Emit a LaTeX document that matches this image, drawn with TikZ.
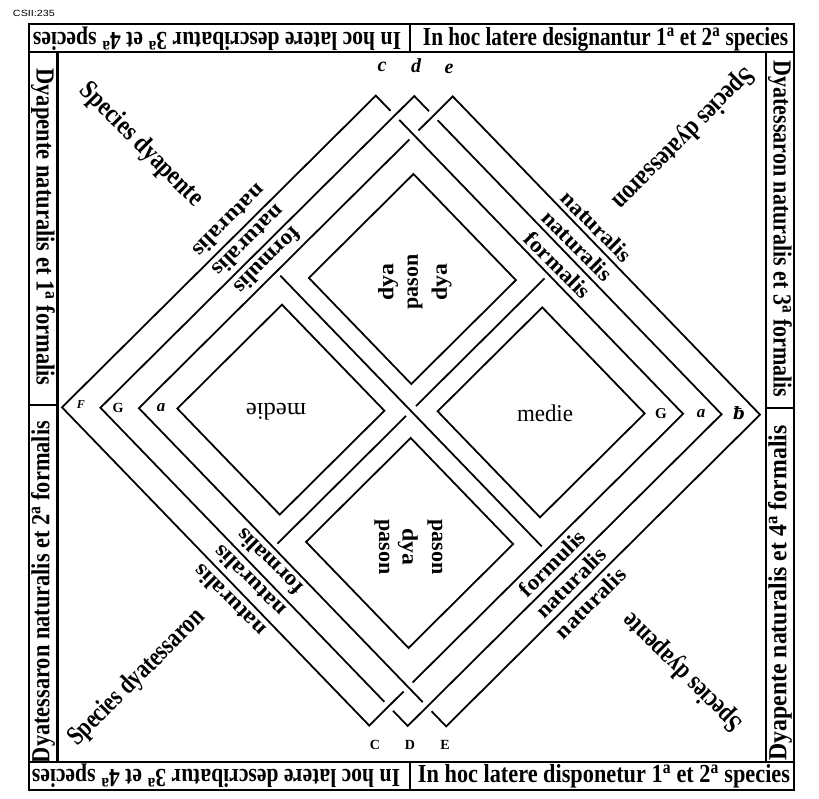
\documentclass[tikz,border=0pt]{standalone}
\usepackage{graphicx}
\usepackage{fontspec}
\setmainfont{Liberation Serif}
\newfontfamily\labsans{Liberation Sans}
\newfontfamily\dvs{DejaVu Serif}
\newcommand\sqz[2]{\resizebox{#1pt}{\height}{#2}}
\newcommand\oa{\textsuperscript{a}}
\begin{document}
\begin{tikzpicture}[x=1pt,y=-1pt,
  frame/.style={line width=2.2pt},
  ln/.style={line width=1.8pt},
  band/.style={inner sep=0pt,font=\fontsize{26}{26}\selectfont\bfseries},
  spec/.style={inner sep=0pt,font=\fontsize{27}{27}\selectfont\bfseries},
  lab/.style={inner sep=0pt,font=\fontsize{22}{22}\selectfont\bfseries},
  inner/.style={inner sep=0pt,font=\fontsize{22}{22}\selectfont\bfseries},
  med/.style={inner sep=0pt,font=\fontsize{24}{24}\selectfont},
  note/.style={inner sep=0pt,font=\fontsize{#1}{#1}\selectfont\bfseries},
  notei/.style={inner sep=0pt,font=\fontsize{#1}{#1}\selectfont\bfseries\itshape}
]
\path[use as bounding box] (0,0) rectangle (819,798);
\fill[white] (0,0) rectangle (819,798);

\node[inner sep=0pt,font=\labsans\fontsize{9}{9}\selectfont] (csi) at (34,13.5) {\sqz{42}{CSII:235}};

% frame
\draw[frame] (29,24) rectangle (794,790);
\draw[frame] (29,52) -- (794,52);
\draw[frame] (29,762) -- (794,762);
\draw[frame] (57.5,52) -- (57.5,762);
\draw[frame] (766,52) -- (766,762);
\draw[frame] (410,24) -- (410,52);
\draw[frame] (410,762) -- (410,790);
\draw[frame] (29,405) -- (57.5,405);
\draw[frame] (766,408) -- (794,408);

% band texts
\node[band,rotate=180] (tl) at (217,39) {\sqz{368}{In hoc latere describatur 3\oa{} et 4\oa{} species}};
\node[band] (tr) at (605.5,39) {\sqz{365}{In hoc latere designantur 1\oa{} et 2\oa{} species}};
\node[band,rotate=180] (bl) at (216,776) {\sqz{368}{In hoc latere describatur 3\oa{} et 4\oa{} species}};
\node[band] (br) at (604,776) {\sqz{372}{In hoc latere disponetur 1\oa{} et 2\oa{} species}};
\node[band,rotate=-90] (lu) at (43,227) {\sqz{317}{Dyapente naturalis et 1\oa{} formalis}};
\node[band,rotate=90] (ll) at (43,592) {\sqz{342}{Dyatessaron naturalis et 2\oa{} formalis}};
\node[band,rotate=-90] (ru) at (780,229) {\sqz{337}{Dyatessaron naturalis et 3\oa{} formalis}};
\node[band,rotate=90] (rl) at (780,593) {\sqz{335}{Dyapente naturalis et 4\oa{} formalis}};

% corner texts
\node[spec,rotate=-45] (s1) at (141,145) {\sqz{163}{Species dyapente}};
\node[spec,rotate=225] (s2) at (683,138) {\sqz{190}{Species dyatessaron}};
\node[spec,rotate=45] (s3) at (137,678) {\sqz{182}{Species dyatessaron}};
\node[spec,rotate=135] (s4) at (683,672) {\sqz{157}{Species dyapente}};

% interlaced diamonds, coordinates (p,q) along the two diagonals
\begin{scope}[shift={(411,411)},rotate=-0.6,x={(0.493pt,-0.5pt)},y={(0.493pt,0.5pt)}]
  % loop 1 (left-shifted)
  \draw[ln] (-306,276) -- (276,276) -- (276,-267);
  \draw[ln] (276,-285) -- (276,-354) -- (-354,-354) -- (-354,276) -- (-324,276);
  % loop 2 (centred)
  \draw[ln] (-267,315) -- (315,315) -- (315,-315) -- (285,-315);
  \draw[ln] (267,-315) -- (-315,-315) -- (-315,315) -- (-285,315);
  % loop 3 (right-shifted)
  \draw[ln] (-276,285) -- (-276,354) -- (354,354) -- (354,-276) -- (324,-276);
  \draw[ln] (306,-276) -- (-276,-276) -- (-276,267);
  % four inner squares
  \draw[ln] (-237,-237) -- (-237,-27) -- (-27,-27) -- (-27,-237) -- cycle;
  \draw[ln] (-237,27) -- (-237,237) -- (-27,237) -- (-27,27) -- cycle;
  \draw[ln] (27,27) -- (27,237) -- (237,237) -- (237,27) -- cycle;
  \draw[ln] (27,-237) -- (27,-27) -- (237,-27) -- (237,-237) -- cycle;
  % central cross
  \draw[ln] (-268,0) -- (268,0);
  \draw[ln] (0,-268) -- (0,-10);
  \draw[ln] (0,10) -- (0,268);
  % band labels
  \node[lab,rotate=225] (ul1) at (-374,2) {\sqz{93}{naturalis}};
  \node[lab,rotate=225] (ul2) at (-334,2) {\sqz{92}{naturalis}};
  \node[lab,rotate=225] (ul3) at (-295,2) {\sqz{85}{formulis}};
  \node[lab,rotate=-45] (ur1) at (0,373) {\sqz{90}{naturalis}};
  \node[lab,rotate=-45] (ur2) at (0,334) {\sqz{90}{naturalis}};
  \node[lab,rotate=-45] (ur3) at (0,295) {\sqz{84}{formalis}};
  \node[lab,rotate=45] (lr1) at (374,-6) {\sqz{90}{naturalis}};
  \node[lab,rotate=45] (lr2) at (334,-6) {\sqz{90}{naturalis}};
  \node[lab,rotate=45] (lr3) at (295,-6) {\sqz{84}{formulis}};
  \node[lab,rotate=135] (ll1) at (10,-374) {\sqz{92}{naturalis}};
  \node[lab,rotate=135] (ll2) at (10,-334) {\sqz{92}{naturalis}};
  \node[lab,rotate=135] (ll3) at (10,-295) {\sqz{84}{formalis}};
\end{scope}

% inner square texts
\node[med,rotate=180] (m1) at (276,412) {\sqz{60}{medie}};
\node[med] (m2) at (545,413) {\sqz{56}{medie}};
\node[inner,rotate=90] (t1) at (388,282) {\sqz{37}{dya}};
\node[inner,rotate=90] (t2) at (415,282) {\sqz{55}{pason}};
\node[inner,rotate=90] (t3) at (441.5,282) {\sqz{37}{dya}};
\node[inner,rotate=-90] (b1) at (382,547) {\sqz{55}{pason}};
\node[inner,rotate=-90] (b2) at (408,547) {\sqz{37}{dya}};
\node[inner,rotate=-90] (b3) at (435,547) {\sqz{55}{pason}};

% note names
\node[notei=20] (nc) at (382,67) {c};
\node[notei=20] (nd) at (416,66) {d};
\node[notei=20] (ne) at (449,69) {e};
\node[note=14] (nC) at (375,745) {C};
\node[note=14] (nD) at (410,745) {D};
\node[note=14] (nE) at (445,745) {E};
\node[notei=12] (nF) at (81,405) {F};
\node[note=14] (nG) at (118,408) {G};
\node[notei=17] (na) at (161,408) {a};
\node[note=15] (nG2) at (661,414) {G};
\node[notei=17] (na2) at (701,414) {a};
\node[inner sep=0pt,font=\dvs\fontsize{17}{17}\selectfont\bfseries\itshape] (nb) at (739,413) {ƀ};
\end{tikzpicture}
\end{document}
